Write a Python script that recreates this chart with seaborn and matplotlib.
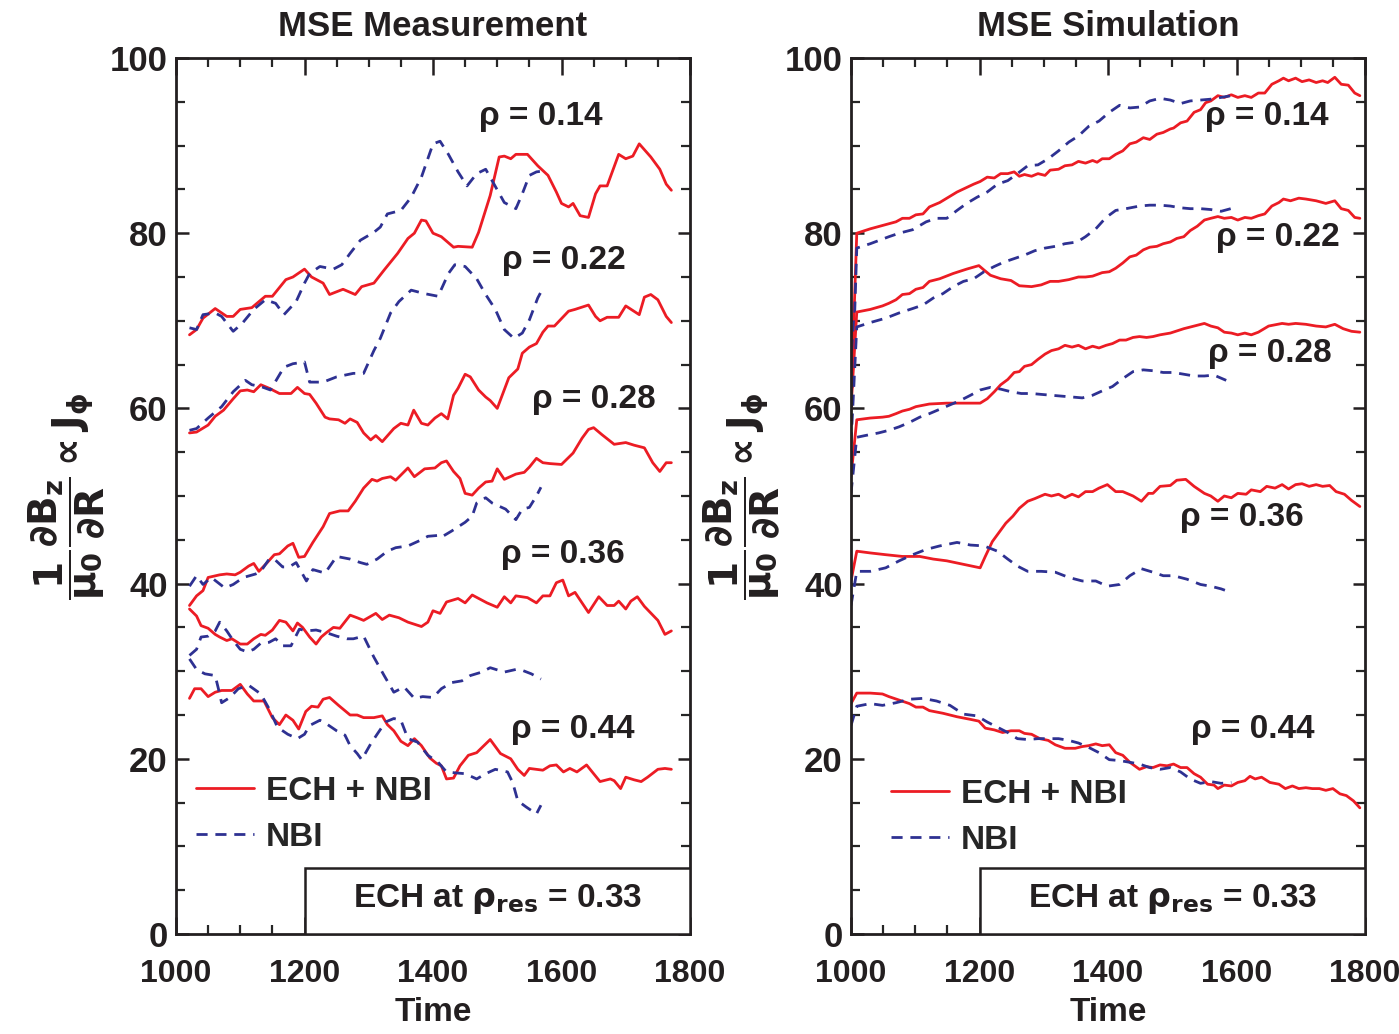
import numpy as np
import pandas as pd
import matplotlib
matplotlib.use("Agg")
import matplotlib.pyplot as plt
from matplotlib.ticker import MultipleLocator, FixedLocator
from matplotlib.patches import Rectangle
from matplotlib.lines import Line2D
import seaborn as sns

# ---------------- data: MSE Measurement (left panel) ----------------
meas_ech_014_t = [1021,1032,1042,1061,1079,1089,1100,1118,1139,1150,1171,1182,1200,1211,1229,1239,1260,1279,1289,1308,1324,1345,1361,1371,1382,1389,1400,1413,1432,1439,1461,1471,1489,1503,1511,1521,1529,1547,1563,1579,1592,1600,1611,1618,1629,1642,1653,1660,1671,1689,1700,1711,1721,1739,1753,1763,1771]
meas_ech_014_v = [68.4,69.0,70.3,71.4,70.5,70.5,71.3,71.5,72.8,72.8,74.7,75.0,75.9,75.0,74.3,73.0,73.6,73.0,73.9,74.3,75.8,77.7,79.4,80.0,81.5,81.4,80.0,79.6,78.4,78.5,78.4,80.1,84.3,88.7,88.8,88.5,89.0,89.0,87.7,86.6,84.7,83.4,83.0,83.4,82.0,81.8,84.5,85.4,85.4,89.0,88.5,88.8,90.2,88.7,87.3,85.6,84.9]
meas_nbi_014_t = [1021,1032,1042,1061,1071,1089,1103,1121,1139,1155,1168,1187,1200,1208,1224,1245,1258,1271,1287,1308,1318,1329,1350,1366,1382,1400,1411,1424,1439,1453,1468,1482,1495,1511,1529,1539,1550,1561,1571]
meas_nbi_014_v = [69.2,69.0,70.7,70.9,70.5,68.8,69.7,71.3,72.4,72.0,70.7,72.2,74.3,75.4,76.2,75.9,76.4,77.7,79.2,80.1,80.7,82.2,82.6,84.1,86.4,90.2,90.5,89.0,87.0,85.4,86.8,87.3,85.6,83.5,82.8,84.5,86.6,87.0,87.1]

meas_ech_022_t = [1021,1032,1050,1061,1074,1089,1100,1111,1121,1132,1145,1161,1179,1189,1200,1208,1218,1232,1239,1253,1263,1271,1282,1292,1303,1311,1321,1339,1350,1361,1370,1382,1392,1403,1413,1423,1432,1439,1450,1458,1471,1482,1489,1500,1518,1532,1539,1550,1561,1571,1579,1589,1611,1621,1642,1653,1660,1671,1689,1700,1721,1729,1739,1750,1763,1771]
meas_ech_022_v = [57.2,57.3,58.1,59.1,59.8,61.1,62.0,62.1,61.9,62.7,62.3,61.7,61.7,62.4,61.7,61.6,60.6,59.0,58.8,58.7,58.3,58.8,58.4,57.2,56.4,56.9,56.2,57.7,58.3,58.1,59.8,58.3,58.1,58.9,59.4,58.8,61.5,62.3,63.9,63.6,62.1,61.3,60.9,60.0,63.5,64.5,66.3,67.0,67.4,68.7,69.4,69.4,71.1,71.3,71.8,70.5,70.0,70.4,70.4,71.7,70.7,72.7,73.0,72.4,70.5,69.8]
meas_nbi_022_t = [1021,1032,1050,1071,1089,1108,1118,1132,1147,1168,1182,1200,1208,1229,1250,1276,1292,1308,1318,1334,1347,1366,1387,1408,1424,1434,1450,1468,1482,1497,1511,1526,1539,1550,1563,1571]
meas_nbi_022_v = [57.5,57.7,58.9,60.2,61.9,63.2,62.7,62.5,62.1,64.7,65.1,65.3,63.0,63.0,63.6,64.0,64.0,66.6,68.0,70.9,72.2,73.5,73.1,72.8,75.4,76.4,76.2,74.8,73.0,71.3,69.0,68.0,68.6,70.1,72.6,73.7]

meas_ech_028_t = [1021,1032,1042,1050,1068,1079,1092,1100,1113,1121,1129,1142,1153,1161,1174,1182,1191,1200,1213,1229,1239,1255,1268,1279,1292,1305,1313,1321,1334,1342,1361,1371,1387,1403,1413,1421,1432,1442,1450,1461,1471,1482,1492,1500,1511,1529,1542,1550,1561,1571,1582,1600,1618,1632,1642,1650,1663,1682,1700,1713,1729,1742,1753,1763,1771]
meas_ech_028_v = [37.5,38.6,39.2,40.7,41.0,41.1,41.0,41.3,42.0,42.3,41.4,42.4,43.3,43.4,44.3,44.6,43.0,43.1,44.7,46.5,48.0,48.3,48.3,49.4,50.9,51.9,51.7,52.0,52.2,51.8,53.2,52.2,53.1,53.2,53.8,54.0,52.8,52.0,50.3,50.1,50.9,51.6,51.7,53.1,51.9,52.5,52.7,53.3,54.3,53.8,53.7,53.6,54.9,56.6,57.6,57.8,57.0,55.9,56.1,55.8,55.5,53.8,52.8,53.8,53.8]
meas_nbi_028_t = [1021,1032,1042,1055,1076,1089,1105,1124,1132,1145,1153,1166,1176,1187,1203,1213,1232,1250,1271,1287,1297,1313,1329,1342,1361,1382,1392,1408,1413,1429,1450,1461,1468,1482,1492,1513,1529,1539,1550,1561,1568]
meas_nbi_028_v = [39.7,40.9,39.9,40.7,39.5,39.9,40.7,41.1,41.4,42.8,42.8,41.9,41.9,42.4,40.3,41.6,41.2,43.1,42.8,42.4,42.2,42.8,43.7,44.1,44.3,45.0,45.4,45.5,45.3,46.0,47.0,47.7,49.2,49.8,49.2,48.5,47.3,48.5,48.7,50.0,51.0]

meas_ech_036_t = [1021,1032,1039,1050,1061,1068,1079,1087,1100,1111,1121,1132,1139,1150,1161,1171,1182,1189,1197,1208,1218,1226,1234,1245,1255,1271,1282,1292,1311,1321,1332,1347,1361,1382,1392,1400,1411,1421,1439,1450,1461,1484,1500,1511,1521,1529,1547,1561,1571,1582,1592,1602,1611,1621,1642,1658,1671,1682,1689,1700,1708,1718,1729,1750,1761,1771]
meas_ech_036_v = [37.1,36.3,35.2,34.9,34.2,33.9,33.5,33.7,33.1,33.1,33.7,34.2,34.1,34.7,35.8,35.6,34.6,35.5,35.0,33.9,33.1,33.9,34.4,35.0,34.9,36.4,36.1,35.8,36.6,35.9,36.4,36.1,35.6,35.1,35.6,36.9,36.6,37.9,38.3,37.8,38.7,37.8,37.3,38.5,37.8,38.6,38.4,37.8,38.6,38.6,40.1,40.4,38.6,39.0,36.7,38.5,37.5,37.5,38.0,37.1,38.0,38.5,37.4,35.8,34.2,34.6]
meas_nbi_036_t = [1021,1032,1039,1050,1061,1068,1079,1089,1100,1111,1121,1132,1145,1155,1166,1179,1192,1203,1218,1234,1250,1266,1276,1292,1308,1324,1339,1355,1371,1384,1400,1413,1429,1445,1458,1476,1489,1511,1529,1539,1553,1568]
meas_nbi_036_v = [31.8,32.5,33.9,34.0,34.6,35.6,34.6,33.5,32.5,32.2,32.5,33.2,33.3,33.7,32.9,32.9,34.8,34.6,34.7,34.4,34.0,33.7,33.7,34.0,31.6,29.5,27.6,28.2,26.9,27.1,27.0,28.0,28.7,28.9,29.5,29.9,30.4,29.9,30.2,30.1,29.7,29.1]

meas_ech_044_t = [1021,1029,1039,1050,1061,1071,1087,1100,1111,1121,1137,1150,1161,1171,1182,1191,1202,1211,1221,1229,1239,1253,1271,1282,1292,1308,1321,1329,1339,1350,1361,1371,1382,1395,1405,1413,1421,1432,1442,1455,1468,1489,1505,1521,1532,1542,1550,1571,1582,1592,1603,1613,1624,1639,1650,1660,1676,1682,1692,1700,1713,1724,1734,1750,1761,1771]
meas_ech_044_v = [26.9,28.0,28.0,27.1,27.6,27.8,27.8,28.5,27.4,26.6,26.6,24.7,23.9,25.0,24.4,23.4,25.4,26.0,25.9,26.8,27.0,26.1,25.0,25.0,24.7,24.7,24.9,23.9,23.2,22.0,21.5,22.3,21.5,20.1,19.5,19.2,17.7,17.8,19.2,20.4,20.7,22.2,20.6,20.0,18.8,18.1,18.9,18.7,19.2,19.3,18.5,18.9,18.5,19.3,18.3,17.4,17.7,17.5,16.6,17.9,17.6,17.4,17.9,18.8,18.9,18.8]
meas_nbi_044_t = [1021,1032,1045,1061,1066,1071,1084,1097,1113,1132,1145,1158,1174,1189,1200,1208,1224,1234,1250,1263,1271,1282,1289,1303,1313,1326,1339,1350,1361,1376,1392,1408,1421,1434,1450,1468,1482,1497,1516,1524,1532,1545,1561,1568]
meas_nbi_044_v = [31.4,30.2,29.7,29.5,28.0,26.4,27.0,28.0,28.4,27.4,25.7,23.6,22.8,22.3,22.8,23.8,24.4,24.0,23.2,22.7,21.5,20.6,19.9,21.7,22.8,24.2,24.6,24.4,22.3,21.9,20.4,19.6,18.5,18.4,18.3,17.7,18.3,18.8,18.5,17.3,15.2,14.5,13.7,14.7]

# ---------------- data: MSE Simulation (right panel) ----------------
sim_ech_014_t = [1000,1009,1030,1070,1080,1091,1101,1112,1122,1138,1165,1191,1201,1212,1223,1233,1244,1254,1262,1270,1281,1291,1302,1310,1323,1333,1344,1354,1365,1376,1383,1391,1402,1412,1423,1434,1444,1455,1465,1476,1486,1497,1502,1513,1523,1534,1544,1552,1560,1571,1581,1592,1602,1613,1623,1634,1644,1655,1666,1673,1681,1692,1702,1713,1724,1734,1742,1753,1763,1774,1784,1792]
sim_ech_014_v = [60.5,80.0,80.5,81.3,81.7,81.7,82.1,82.2,83.0,83.5,84.7,85.6,85.9,86.4,86.3,86.8,86.8,87.0,86.5,86.7,86.5,86.8,86.6,87.2,87.3,87.7,87.8,88.2,88.0,88.3,88.1,88.5,88.5,89.0,89.4,90.2,90.4,90.9,90.7,91.3,91.5,91.9,92.0,92.6,92.8,93.8,94.1,94.9,95.1,95.7,95.5,95.8,95.5,95.7,95.5,96.0,96.0,97.0,97.4,97.7,97.4,97.7,97.3,97.5,97.2,97.4,97.2,97.8,97.0,96.9,96.0,95.7]
sim_nbi_014_t = [1000,1009,1030,1059,1075,1096,1117,1133,1149,1165,1180,1196,1212,1228,1244,1259,1275,1291,1307,1323,1339,1354,1370,1386,1402,1418,1434,1449,1465,1481,1497,1513,1528,1544,1560,1576,1592]
sim_nbi_014_v = [58.0,78.3,78.8,79.6,80.0,80.4,81.3,81.7,81.7,82.6,83.4,84.1,84.7,85.6,86.0,86.8,87.7,87.8,88.5,89.4,90.4,91.1,92.2,92.8,93.8,94.6,94.3,94.4,95.1,95.4,95.2,94.8,95.1,95.2,95.3,95.5,95.7]

sim_ech_022_t = [1000,1009,1030,1049,1059,1070,1080,1091,1101,1112,1122,1138,1159,1180,1199,1207,1217,1233,1249,1262,1281,1296,1310,1323,1339,1354,1365,1376,1391,1402,1412,1423,1434,1444,1455,1465,1476,1486,1497,1507,1518,1528,1539,1550,1560,1571,1581,1592,1602,1613,1623,1634,1644,1655,1666,1673,1684,1697,1708,1724,1739,1753,1763,1774,1784,1792]
sim_ech_022_v = [60.0,71.0,71.3,71.7,72.0,72.4,73.0,73.1,73.6,73.8,74.5,74.8,75.4,75.9,76.3,75.8,75.2,74.8,74.6,74.0,73.9,74.1,74.5,74.5,74.7,75.0,75.0,75.1,75.5,75.6,76.0,76.6,77.3,77.5,78.1,78.4,78.5,78.8,79.0,79.4,79.6,80.3,80.8,81.5,81.7,81.9,81.7,81.8,81.5,81.8,81.7,82.0,82.2,83.1,83.5,83.9,83.7,84.0,83.9,83.7,83.4,83.7,82.8,82.6,81.8,81.7]
sim_nbi_022_t = [1000,1009,1030,1054,1075,1096,1112,1128,1143,1159,1175,1191,1207,1223,1238,1254,1270,1286,1302,1318,1333,1352,1365,1381,1397,1412,1428,1449,1465,1481,1497,1513,1528,1544,1560,1576,1591]
sim_nbi_022_v = [56.0,69.3,69.8,70.3,70.9,71.4,71.8,72.6,73.1,73.9,74.5,74.8,75.6,76.2,76.7,77.1,77.5,78.0,78.3,78.5,78.8,79.0,79.6,80.5,81.8,82.6,82.8,83.1,83.2,83.2,83.1,82.9,82.8,82.8,82.7,82.5,82.8]

sim_ech_028_t = [1000,1009,1030,1049,1059,1070,1080,1091,1101,1122,1149,1175,1201,1212,1223,1233,1244,1254,1262,1270,1281,1291,1302,1312,1323,1333,1344,1354,1365,1376,1386,1397,1407,1418,1428,1439,1449,1460,1470,1481,1497,1518,1534,1550,1560,1571,1581,1592,1602,1613,1623,1634,1650,1671,1681,1692,1708,1724,1739,1753,1766,1779,1792]
sim_ech_028_v = [52.2,58.7,58.9,59.0,59.1,59.4,59.7,59.9,60.2,60.5,60.6,60.6,60.6,61.1,61.9,62.7,63.3,64.1,64.2,64.8,65.0,65.6,66.2,66.6,66.8,67.2,67.0,67.2,66.8,67.1,66.9,67.2,67.4,67.8,67.8,68.1,68.2,68.1,68.2,68.4,68.6,69.1,69.4,69.7,69.4,69.2,68.7,68.6,68.4,68.6,68.4,68.7,69.4,69.7,69.6,69.7,69.6,69.4,69.3,69.6,69.1,68.8,68.7]
sim_nbi_028_t = [1000,1009,1022,1043,1059,1075,1091,1107,1122,1138,1154,1170,1186,1201,1217,1233,1249,1265,1281,1296,1312,1328,1344,1360,1376,1391,1407,1423,1439,1455,1470,1486,1502,1518,1534,1550,1565,1584]
sim_nbi_028_v = [50.3,56.7,56.9,57.2,57.5,57.9,58.4,59.0,59.4,59.9,60.4,60.9,61.5,62.1,62.4,62.2,61.9,61.7,61.7,61.6,61.5,61.4,61.3,61.2,61.5,62.0,62.5,63.4,64.2,64.4,64.3,64.1,64.1,63.9,63.7,63.7,63.8,63.2]

sim_ech_036_t = [1000,1009,1030,1054,1080,1107,1128,1149,1175,1201,1209,1220,1230,1241,1252,1262,1275,1286,1302,1312,1323,1333,1344,1354,1365,1376,1386,1399,1412,1423,1439,1452,1463,1470,1481,1497,1507,1521,1534,1550,1560,1571,1581,1592,1602,1615,1623,1637,1647,1660,1671,1681,1692,1702,1713,1724,1734,1745,1755,1768,1779,1792]
sim_ech_036_v = [40.3,43.7,43.5,43.3,43.1,43.1,42.8,42.6,42.2,41.8,43.1,44.8,45.8,46.9,47.7,48.6,49.4,49.7,50.2,50.0,50.2,49.8,50.2,49.9,50.5,50.5,50.9,51.3,50.5,50.5,50.0,49.4,50.3,50.3,51.1,51.2,51.8,51.9,51.1,50.3,50.0,49.4,50.0,49.8,50.3,50.2,50.7,50.5,51.1,50.9,51.3,50.8,51.3,51.4,51.1,51.3,51.1,51.2,50.5,50.2,49.5,48.8]
sim_nbi_036_t = [1000,1009,1030,1054,1075,1096,1117,1138,1165,1186,1207,1228,1244,1259,1275,1296,1318,1339,1360,1381,1399,1418,1434,1452,1470,1486,1502,1523,1544,1560,1576,1591]
sim_nbi_036_v = [37.5,41.4,41.4,41.8,42.6,43.3,43.9,44.3,44.7,44.4,44.3,43.7,42.8,42.0,41.4,41.4,41.3,40.7,40.3,40.3,39.7,39.9,40.9,41.7,41.3,40.9,40.9,40.5,39.9,39.7,39.4,39.0]

sim_ech_044_t = [1000,1009,1030,1049,1059,1075,1091,1101,1112,1122,1143,1165,1186,1199,1209,1223,1236,1249,1262,1270,1281,1294,1307,1318,1333,1349,1360,1370,1381,1391,1402,1412,1423,1434,1449,1460,1470,1481,1492,1502,1513,1523,1534,1544,1555,1565,1571,1581,1592,1602,1613,1621,1629,1639,1652,1666,1676,1687,1697,1708,1718,1729,1739,1750,1761,1771,1782,1792]
sim_ech_044_v = [26.3,27.5,27.5,27.4,27.1,26.7,26.3,25.9,25.9,25.5,25.2,24.8,24.5,24.3,23.5,23.3,23.0,23.2,23.2,22.9,22.8,22.3,22.1,21.6,21.2,21.2,21.4,21.5,21.7,21.5,21.6,20.7,20.4,19.6,18.8,19.1,19.0,19.3,19.2,19.4,19.0,19.0,18.3,17.9,17.1,17.0,16.6,17.0,16.9,17.3,17.5,18.0,17.7,17.9,17.3,17.1,16.6,16.9,16.6,16.7,16.6,16.6,16.4,16.6,16.0,15.8,15.2,14.4]
sim_nbi_044_t = [1000,1009,1030,1049,1070,1091,1112,1133,1154,1175,1196,1212,1228,1244,1259,1275,1291,1307,1323,1339,1354,1370,1386,1402,1418,1434,1449,1465,1481,1497,1513,1528,1544,1560,1576,1592]
sim_nbi_044_v = [23.8,26.0,26.3,26.1,26.4,26.8,26.9,26.6,26.1,25.1,24.9,24.2,23.6,23.0,22.3,22.2,22.3,22.3,22.3,22.1,21.8,21.3,20.7,19.9,19.8,19.6,19.4,19.0,18.8,19.0,18.5,17.7,17.2,17.4,17.2,17.3]

rho_labels = ["ρ = 0.14", "ρ = 0.22", "ρ = 0.28", "ρ = 0.36", "ρ = 0.44"]
meas_label_pos = [(1568, 93.3), (1604, 76.9), (1650, 61.0), (1602, 43.3), (1618, 23.3)]
sim_label_pos = [(1647, 93.3), (1665, 79.5), (1652, 66.3), (1609, 47.5), (1626, 23.3)]
titles = ["MSE Measurement", "MSE Simulation"]
legend_labels = ["ECH + NBI", "NBI"]
x_ticks = [1000, 1200, 1400, 1600, 1800]
y_ticks = [0, 20, 40, 60, 80, 100]

# ---------------- style ----------------
sns.set_style("ticks")
FONT = ["Liberation Sans Narrow", "Liberation Sans", "DejaVu Sans"]
plt.rcParams["font.family"] = FONT
plt.rcParams["font.weight"] = "bold"
plt.rcParams["mathtext.fontset"] = "custom"
plt.rcParams["mathtext.rm"] = "Liberation Sans Narrow:bold"
plt.rcParams["mathtext.bf"] = "Liberation Sans Narrow:bold"
plt.rcParams["mathtext.it"] = "Liberation Sans Narrow:bold"
plt.rcParams["mathtext.sf"] = "Liberation Sans Narrow:bold"
plt.rcParams["mathtext.default"] = "bf"

RED = "#ec1c24"
BLUE = "#2e3192"
DARK = "#231f20"
LW = 2.0
DASH = (0, (4.0, 2.8))
FS = 24

fig = plt.figure(figsize=(13.99, 10.34), dpi=100)
ax_l = fig.add_axes([176 / 1399, 100 / 1034, 514 / 1399, 876 / 1034])
ax_r = fig.add_axes([851 / 1399, 100 / 1034, 514 / 1399, 876 / 1034])


def draw_panel(ax, series, label_pos, title, legend_xy):
    for (t_e, v_e, t_n, v_n) in series:
        sns.lineplot(x=t_e, y=v_e, ax=ax, color=RED, lw=LW, estimator=None, sort=False)
        sns.lineplot(x=t_n, y=v_n, ax=ax, color=BLUE, lw=LW, estimator=None, sort=False,
                     linestyle=DASH)
    ax.set_xlim(1000, 1800)
    ax.set_ylim(0, 100)
    ax.xaxis.set_major_locator(FixedLocator(x_ticks))
    ax.xaxis.set_minor_locator(MultipleLocator(50))
    ax.yaxis.set_major_locator(FixedLocator(y_ticks))
    ax.yaxis.set_minor_locator(MultipleLocator(5))
    ax.tick_params(axis="x", which="major", direction="in", length=12, width=1.8,
                   top=True, bottom=True, labelsize=23, pad=18, colors=DARK)
    ax.tick_params(axis="x", which="minor", direction="in", length=6.5, width=1.6,
                   top=True, bottom=True)
    ax.tick_params(axis="y", which="major", direction="in", length=9, width=1.8,
                   left=True, right=True, labelsize=25, pad=6, colors=DARK)
    ax.tick_params(axis="y", which="minor", direction="in", length=6.5, width=1.6,
                   left=True, right=True)
    for lab in ax.get_xticklabels() + ax.get_yticklabels():
        lab.set_fontweight("bold")
    for sp in ax.spines.values():
        sp.set_linewidth(2.0)
        sp.set_color(DARK)
        sp.set_visible(True)
    ax.set_xlabel("Time", fontsize=FS, fontweight="bold", labelpad=6, color=DARK)
    ax.set_title(title, fontsize=FS + 1, fontweight="bold", pad=16, color=DARK)
    ax.set_ylabel(r"$\dfrac{1}{\mu_0}\dfrac{\partial B_z}{\partial R}\propto J_\phi$",
                  fontsize=28, color=DARK, labelpad=2)
    for txt, (x, y) in zip(rho_labels, label_pos):
        ax.text(x, y, txt, fontsize=FS, fontweight="bold", ha="center", va="center",
                color=DARK)
    box = Rectangle((1200, 0), 600, 7.5, facecolor="white", edgecolor=DARK, lw=1.8,
                    zorder=5)
    ax.add_patch(box)
    ax.text(1500, 4.0, r"ECH at $\rho_{res}$ = 0.33", fontsize=FS, fontweight="bold",
            ha="center", va="center", color=DARK, zorder=6)
    handles = [Line2D([], [], color=RED, lw=LW),
               Line2D([], [], color=BLUE, lw=LW, linestyle=DASH)]
    ax.legend(handles, legend_labels, loc="upper left", bbox_to_anchor=legend_xy,
              frameon=False, handlelength=1.75, handletextpad=0.35,
              labelspacing=0.45, borderaxespad=0, borderpad=0.2,
              prop={"weight": "bold", "size": FS, "family": FONT})


meas_series = [
    (meas_ech_014_t, meas_ech_014_v, meas_nbi_014_t, meas_nbi_014_v),
    (meas_ech_022_t, meas_ech_022_v, meas_nbi_022_t, meas_nbi_022_v),
    (meas_ech_028_t, meas_ech_028_v, meas_nbi_028_t, meas_nbi_028_v),
    (meas_ech_036_t, meas_ech_036_v, meas_nbi_036_t, meas_nbi_036_v),
    (meas_ech_044_t, meas_ech_044_v, meas_nbi_044_t, meas_nbi_044_v),
]
sim_series = [
    (sim_ech_014_t, sim_ech_014_v, sim_nbi_014_t, sim_nbi_014_v),
    (sim_ech_022_t, sim_ech_022_v, sim_nbi_022_t, sim_nbi_022_v),
    (sim_ech_028_t, sim_ech_028_v, sim_nbi_028_t, sim_nbi_028_v),
    (sim_ech_036_t, sim_ech_036_v, sim_nbi_036_t, sim_nbi_036_v),
    (sim_ech_044_t, sim_ech_044_v, sim_nbi_044_t, sim_nbi_044_v),
]

draw_panel(ax_l, meas_series, meas_label_pos, titles[0], (0.025, 0.188))
draw_panel(ax_r, sim_series, sim_label_pos, titles[1], (0.065, 0.185))

fig.savefig("out.png", dpi=100)
